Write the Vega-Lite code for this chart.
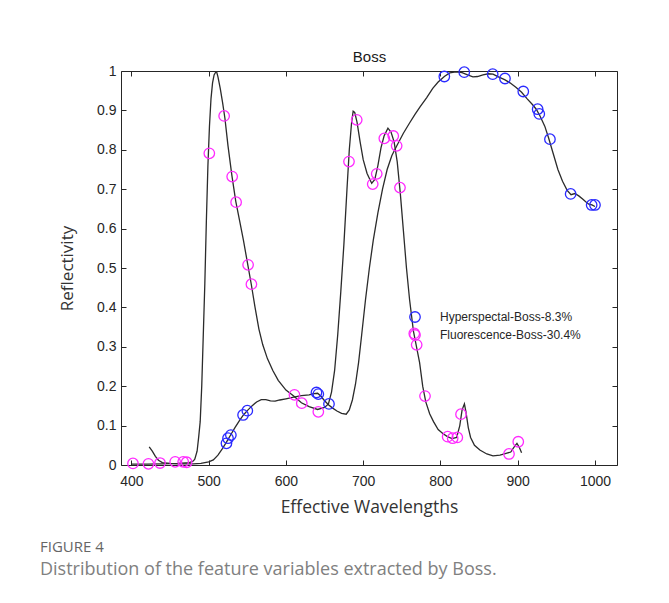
{
  "$schema": "https://vega.github.io/schema/vega-lite/v6.json",
  "width": 496,
  "height": 394,
  "autosize": {"type": "none"},
  "padding": {"left": 121, "top": 71, "right": 52, "bottom": 138},
  "background": "white",
  "config": {
    "view": {"stroke": "#262626", "strokeWidth": 1},
    "axis": {"grid": false, "domain": false, "tickColor": "#262626", "tickWidth": 1, "labelFont": "Liberation Sans", "labelFontSize": 14, "labelColor": "#262626", "titleFont": "Open Sans", "titleFontSize": 17.5, "titleFontWeight": "normal", "titleColor": "#333333"}
  },
  "title": {
    "text": "FIGURE 4",
    "subtitle": "Distribution of the feature variables extracted by Boss.",
    "orient": "bottom",
    "anchor": "start",
    "frame": "group",
    "dx": -81,
    "offset": 24,
    "font": "Open Sans",
    "fontSize": 15,
    "fontWeight": "normal",
    "color": "#666666",
    "subtitleFont": "Open Sans",
    "subtitleFontSize": 18,
    "subtitleColor": "#808080",
    "subtitlePadding": 6
  },
  "datasets": {
    "curves": [
      {"curve": "F", "wl": 400, "r": 0.002}, {"curve": "F", "wl": 420, "r": 0.002}, {"curve": "F", "wl": 440, "r": 0.003}, {"curve": "F", "wl": 460, "r": 0.004}, {"curve": "F", "wl": 475, "r": 0.006}, {"curve": "F", "wl": 480, "r": 0.01}, {"curve": "F", "wl": 482, "r": 0.015}, {"curve": "F", "wl": 485, "r": 0.035}, {"curve": "F", "wl": 487, "r": 0.07}, {"curve": "F", "wl": 489, "r": 0.11}, {"curve": "F", "wl": 491, "r": 0.2}, {"curve": "F", "wl": 493, "r": 0.33}, {"curve": "F", "wl": 495, "r": 0.46}, {"curve": "F", "wl": 497, "r": 0.62}, {"curve": "F", "wl": 499, "r": 0.76}, {"curve": "F", "wl": 501, "r": 0.86}, {"curve": "F", "wl": 503, "r": 0.93}, {"curve": "F", "wl": 505, "r": 0.97}, {"curve": "F", "wl": 507, "r": 0.99}, {"curve": "F", "wl": 510, "r": 1.0}, {"curve": "F", "wl": 512, "r": 0.985}, {"curve": "F", "wl": 515, "r": 0.955}, {"curve": "F", "wl": 518, "r": 0.92}, {"curve": "F", "wl": 521, "r": 0.88}, {"curve": "F", "wl": 525, "r": 0.81}, {"curve": "F", "wl": 530, "r": 0.735}, {"curve": "F", "wl": 535, "r": 0.67}, {"curve": "F", "wl": 540, "r": 0.62}, {"curve": "F", "wl": 545, "r": 0.57}, {"curve": "F", "wl": 550, "r": 0.515}, {"curve": "F", "wl": 555, "r": 0.46}, {"curve": "F", "wl": 560, "r": 0.4}, {"curve": "F", "wl": 565, "r": 0.345}, {"curve": "F", "wl": 570, "r": 0.305}, {"curve": "F", "wl": 576, "r": 0.27}, {"curve": "F", "wl": 583, "r": 0.24}, {"curve": "F", "wl": 590, "r": 0.215}, {"curve": "F", "wl": 600, "r": 0.19}, {"curve": "F", "wl": 610, "r": 0.175}, {"curve": "F", "wl": 620, "r": 0.158}, {"curve": "F", "wl": 630, "r": 0.148}, {"curve": "F", "wl": 641, "r": 0.141}, {"curve": "F", "wl": 650, "r": 0.146}, {"curve": "F", "wl": 655, "r": 0.155}, {"curve": "F", "wl": 659, "r": 0.185}, {"curve": "F", "wl": 663, "r": 0.24}, {"curve": "F", "wl": 667, "r": 0.33}, {"curve": "F", "wl": 671, "r": 0.44}, {"curve": "F", "wl": 675, "r": 0.56}, {"curve": "F", "wl": 679, "r": 0.7}, {"curve": "F", "wl": 682, "r": 0.8}, {"curve": "F", "wl": 685, "r": 0.87}, {"curve": "F", "wl": 687, "r": 0.898}, {"curve": "F", "wl": 689, "r": 0.895}, {"curve": "F", "wl": 692, "r": 0.87}, {"curve": "F", "wl": 696, "r": 0.82}, {"curve": "F", "wl": 700, "r": 0.775}, {"curve": "F", "wl": 705, "r": 0.74}, {"curve": "F", "wl": 711, "r": 0.715}, {"curve": "F", "wl": 715, "r": 0.725}, {"curve": "F", "wl": 719, "r": 0.76}, {"curve": "F", "wl": 723, "r": 0.805}, {"curve": "F", "wl": 727, "r": 0.835}, {"curve": "F", "wl": 732, "r": 0.855}, {"curve": "F", "wl": 736, "r": 0.845}, {"curve": "F", "wl": 740, "r": 0.82}, {"curve": "F", "wl": 744, "r": 0.77}, {"curve": "F", "wl": 748, "r": 0.69}, {"curve": "F", "wl": 752, "r": 0.595}, {"curve": "F", "wl": 756, "r": 0.5}, {"curve": "F", "wl": 760, "r": 0.42}, {"curve": "F", "wl": 765, "r": 0.34}, {"curve": "F", "wl": 769, "r": 0.3}, {"curve": "F", "wl": 773, "r": 0.26}, {"curve": "F", "wl": 777, "r": 0.2}, {"curve": "F", "wl": 781, "r": 0.16}, {"curve": "F", "wl": 786, "r": 0.13}, {"curve": "F", "wl": 791, "r": 0.11}, {"curve": "F", "wl": 797, "r": 0.09}, {"curve": "F", "wl": 803, "r": 0.08}, {"curve": "F", "wl": 809, "r": 0.072}, {"curve": "F", "wl": 815, "r": 0.067}, {"curve": "F", "wl": 821, "r": 0.07}, {"curve": "F", "wl": 825, "r": 0.1}, {"curve": "F", "wl": 828, "r": 0.14}, {"curve": "F", "wl": 831, "r": 0.155}, {"curve": "F", "wl": 833, "r": 0.135}, {"curve": "F", "wl": 836, "r": 0.095}, {"curve": "F", "wl": 839, "r": 0.07}, {"curve": "F", "wl": 844, "r": 0.05}, {"curve": "F", "wl": 851, "r": 0.038}, {"curve": "F", "wl": 860, "r": 0.028}, {"curve": "F", "wl": 868, "r": 0.023}, {"curve": "F", "wl": 877, "r": 0.025}, {"curve": "F", "wl": 886, "r": 0.03}, {"curve": "F", "wl": 891, "r": 0.033}, {"curve": "F", "wl": 895, "r": 0.045}, {"curve": "F", "wl": 899, "r": 0.055}, {"curve": "F", "wl": 902, "r": 0.045}, {"curve": "F", "wl": 905, "r": 0.031},
      {"curve": "H", "wl": 423, "r": 0.046}, {"curve": "H", "wl": 427, "r": 0.035}, {"curve": "H", "wl": 431, "r": 0.022}, {"curve": "H", "wl": 435, "r": 0.012}, {"curve": "H", "wl": 440, "r": 0.006}, {"curve": "H", "wl": 450, "r": 0.004}, {"curve": "H", "wl": 460, "r": 0.003}, {"curve": "H", "wl": 470, "r": 0.003}, {"curve": "H", "wl": 480, "r": 0.003}, {"curve": "H", "wl": 490, "r": 0.004}, {"curve": "H", "wl": 500, "r": 0.008}, {"curve": "H", "wl": 506, "r": 0.013}, {"curve": "H", "wl": 512, "r": 0.025}, {"curve": "H", "wl": 518, "r": 0.042}, {"curve": "H", "wl": 523, "r": 0.058}, {"curve": "H", "wl": 528, "r": 0.075}, {"curve": "H", "wl": 534, "r": 0.095}, {"curve": "H", "wl": 540, "r": 0.113}, {"curve": "H", "wl": 545, "r": 0.127}, {"curve": "H", "wl": 550, "r": 0.138}, {"curve": "H", "wl": 556, "r": 0.15}, {"curve": "H", "wl": 562, "r": 0.16}, {"curve": "H", "wl": 568, "r": 0.166}, {"curve": "H", "wl": 574, "r": 0.166}, {"curve": "H", "wl": 580, "r": 0.163}, {"curve": "H", "wl": 586, "r": 0.162}, {"curve": "H", "wl": 592, "r": 0.165}, {"curve": "H", "wl": 600, "r": 0.168}, {"curve": "H", "wl": 610, "r": 0.172}, {"curve": "H", "wl": 620, "r": 0.176}, {"curve": "H", "wl": 630, "r": 0.178}, {"curve": "H", "wl": 636, "r": 0.181}, {"curve": "H", "wl": 641, "r": 0.182}, {"curve": "H", "wl": 645, "r": 0.175}, {"curve": "H", "wl": 650, "r": 0.163}, {"curve": "H", "wl": 655, "r": 0.153}, {"curve": "H", "wl": 660, "r": 0.145}, {"curve": "H", "wl": 666, "r": 0.137}, {"curve": "H", "wl": 672, "r": 0.131}, {"curve": "H", "wl": 678, "r": 0.129}, {"curve": "H", "wl": 682, "r": 0.14}, {"curve": "H", "wl": 686, "r": 0.165}, {"curve": "H", "wl": 690, "r": 0.205}, {"curve": "H", "wl": 694, "r": 0.26}, {"curve": "H", "wl": 698, "r": 0.33}, {"curve": "H", "wl": 703, "r": 0.42}, {"curve": "H", "wl": 708, "r": 0.5}, {"curve": "H", "wl": 713, "r": 0.57}, {"curve": "H", "wl": 719, "r": 0.64}, {"curve": "H", "wl": 725, "r": 0.7}, {"curve": "H", "wl": 731, "r": 0.75}, {"curve": "H", "wl": 737, "r": 0.785}, {"curve": "H", "wl": 744, "r": 0.812}, {"curve": "H", "wl": 752, "r": 0.842}, {"curve": "H", "wl": 760, "r": 0.868}, {"curve": "H", "wl": 767, "r": 0.89}, {"curve": "H", "wl": 774, "r": 0.91}, {"curve": "H", "wl": 782, "r": 0.932}, {"curve": "H", "wl": 790, "r": 0.956}, {"curve": "H", "wl": 797, "r": 0.972}, {"curve": "H", "wl": 805, "r": 0.986}, {"curve": "H", "wl": 812, "r": 0.995}, {"curve": "H", "wl": 820, "r": 0.998}, {"curve": "H", "wl": 828, "r": 0.996}, {"curve": "H", "wl": 835, "r": 0.99}, {"curve": "H", "wl": 842, "r": 0.985}, {"curve": "H", "wl": 848, "r": 0.986}, {"curve": "H", "wl": 855, "r": 0.99}, {"curve": "H", "wl": 862, "r": 0.993}, {"curve": "H", "wl": 868, "r": 0.992}, {"curve": "H", "wl": 875, "r": 0.985}, {"curve": "H", "wl": 883, "r": 0.978}, {"curve": "H", "wl": 890, "r": 0.97}, {"curve": "H", "wl": 898, "r": 0.958}, {"curve": "H", "wl": 905, "r": 0.946}, {"curve": "H", "wl": 912, "r": 0.93}, {"curve": "H", "wl": 919, "r": 0.915}, {"curve": "H", "wl": 924, "r": 0.903}, {"curve": "H", "wl": 929, "r": 0.885}, {"curve": "H", "wl": 935, "r": 0.86}, {"curve": "H", "wl": 940, "r": 0.83}, {"curve": "H", "wl": 946, "r": 0.79}, {"curve": "H", "wl": 952, "r": 0.75}, {"curve": "H", "wl": 958, "r": 0.72}, {"curve": "H", "wl": 964, "r": 0.697}, {"curve": "H", "wl": 969, "r": 0.686}, {"curve": "H", "wl": 974, "r": 0.689}, {"curve": "H", "wl": 979, "r": 0.683}, {"curve": "H", "wl": 984, "r": 0.675}, {"curve": "H", "wl": 988, "r": 0.668}, {"curve": "H", "wl": 992, "r": 0.662}, {"curve": "H", "wl": 996, "r": 0.66}, {"curve": "H", "wl": 1000, "r": 0.656}
    ],
    "points": [
      {"series": "Hyperspectal-Boss-8.3%", "wl": 523, "r": 0.055}, {"series": "Hyperspectal-Boss-8.3%", "wl": 525, "r": 0.068}, {"series": "Hyperspectal-Boss-8.3%", "wl": 528.7, "r": 0.076}, {"series": "Hyperspectal-Boss-8.3%", "wl": 544.5, "r": 0.127}, {"series": "Hyperspectal-Boss-8.3%", "wl": 550, "r": 0.138}, {"series": "Hyperspectal-Boss-8.3%", "wl": 639.5, "r": 0.184}, {"series": "Hyperspectal-Boss-8.3%", "wl": 641.9, "r": 0.18}, {"series": "Hyperspectal-Boss-8.3%", "wl": 655.7, "r": 0.155}, {"series": "Hyperspectal-Boss-8.3%", "wl": 805, "r": 0.986}, {"series": "Hyperspectal-Boss-8.3%", "wl": 830.8, "r": 0.997}, {"series": "Hyperspectal-Boss-8.3%", "wl": 867.6, "r": 0.992}, {"series": "Hyperspectal-Boss-8.3%", "wl": 883.5, "r": 0.981}, {"series": "Hyperspectal-Boss-8.3%", "wl": 907.2, "r": 0.948}, {"series": "Hyperspectal-Boss-8.3%", "wl": 925.8, "r": 0.903}, {"series": "Hyperspectal-Boss-8.3%", "wl": 927.9, "r": 0.891}, {"series": "Hyperspectal-Boss-8.3%", "wl": 941.7, "r": 0.827}, {"series": "Hyperspectal-Boss-8.3%", "wl": 968.5, "r": 0.688}, {"series": "Hyperspectal-Boss-8.3%", "wl": 995.7, "r": 0.66}, {"series": "Hyperspectal-Boss-8.3%", "wl": 1000, "r": 0.66},
      {"series": "Fluorescence-Boss-30.4%", "wl": 402, "r": 0.004}, {"series": "Fluorescence-Boss-30.4%", "wl": 422, "r": 0.003}, {"series": "Fluorescence-Boss-30.4%", "wl": 437, "r": 0.005}, {"series": "Fluorescence-Boss-30.4%", "wl": 456.6, "r": 0.008}, {"series": "Fluorescence-Boss-30.4%", "wl": 467, "r": 0.008}, {"series": "Fluorescence-Boss-30.4%", "wl": 471.5, "r": 0.007}, {"series": "Fluorescence-Boss-30.4%", "wl": 500.8, "r": 0.791}, {"series": "Fluorescence-Boss-30.4%", "wl": 520, "r": 0.886}, {"series": "Fluorescence-Boss-30.4%", "wl": 530.4, "r": 0.732}, {"series": "Fluorescence-Boss-30.4%", "wl": 535.5, "r": 0.667}, {"series": "Fluorescence-Boss-30.4%", "wl": 551, "r": 0.508}, {"series": "Fluorescence-Boss-30.4%", "wl": 555.3, "r": 0.459}, {"series": "Fluorescence-Boss-30.4%", "wl": 611, "r": 0.178}, {"series": "Fluorescence-Boss-30.4%", "wl": 620.5, "r": 0.157}, {"series": "Fluorescence-Boss-30.4%", "wl": 641.9, "r": 0.135}, {"series": "Fluorescence-Boss-30.4%", "wl": 681.6, "r": 0.77}, {"series": "Fluorescence-Boss-30.4%", "wl": 691.6, "r": 0.876}, {"series": "Fluorescence-Boss-30.4%", "wl": 712.3, "r": 0.713}, {"series": "Fluorescence-Boss-30.4%", "wl": 717.5, "r": 0.739}, {"series": "Fluorescence-Boss-30.4%", "wl": 727.3, "r": 0.829}, {"series": "Fluorescence-Boss-30.4%", "wl": 738.9, "r": 0.835}, {"series": "Fluorescence-Boss-30.4%", "wl": 743.3, "r": 0.81}, {"series": "Fluorescence-Boss-30.4%", "wl": 747.6, "r": 0.704}, {"series": "Fluorescence-Boss-30.4%", "wl": 766.1, "r": 0.334}, {"series": "Fluorescence-Boss-30.4%", "wl": 769.2, "r": 0.305}, {"series": "Fluorescence-Boss-30.4%", "wl": 780, "r": 0.175}, {"series": "Fluorescence-Boss-30.4%", "wl": 809.3, "r": 0.072}, {"series": "Fluorescence-Boss-30.4%", "wl": 815.8, "r": 0.068}, {"series": "Fluorescence-Boss-30.4%", "wl": 821.8, "r": 0.07}, {"series": "Fluorescence-Boss-30.4%", "wl": 826.6, "r": 0.129}, {"series": "Fluorescence-Boss-30.4%", "wl": 888.7, "r": 0.028}, {"series": "Fluorescence-Boss-30.4%", "wl": 900.7, "r": 0.059}
    ]
  },
  "layer": [
    {
      "data": {"name": "curves"},
      "mark": {"type": "line", "color": "#2b2b2b", "strokeWidth": 1.3, "clip": true},
      "encoding": {
        "x": {"field": "wl", "type": "quantitative", "scale": {"domain": [386.5, 1028.5], "nice": false, "zero": false},
          "axis": {"orient": "bottom", "values": [400, 500, 600, 700, 800, 900, 1000], "format": "d", "tickSize": -5, "labelPadding": 14, "title": "Effective Wavelengths", "titlePadding": 10}},
        "y": {"field": "r", "type": "quantitative", "scale": {"domain": [0, 1], "nice": false, "zero": false},
          "axis": {"orient": "left", "values": [0, 0.1, 0.2, 0.3, 0.4, 0.5, 0.6, 0.7, 0.8, 0.9, 1], "format": "~g", "tickSize": -5, "labelPadding": 10, "title": "Reflectivity", "titleFontSize": 17, "titlePadding": 20}},
        "detail": {"field": "curve", "type": "nominal"}
      }
    },
    {
      "data": {"name": "points"},
      "mark": {"type": "point", "shape": "circle", "filled": false, "size": 110, "strokeWidth": 1.3, "opacity": 1},
      "encoding": {
        "x": {"field": "wl", "type": "quantitative",
          "axis": {"orient": "top", "values": [400, 500, 600, 700, 800, 900, 1000], "tickSize": -5, "labels": false, "title": "Boss", "titleFont": "Liberation Sans", "titleFontSize": 15, "titleColor": "#1a1a1a", "titlePadding": 6}},
        "y": {"field": "r", "type": "quantitative",
          "axis": {"orient": "right", "values": [0, 0.1, 0.2, 0.3, 0.4, 0.5, 0.6, 0.7, 0.8, 0.9, 1], "tickSize": -5, "labels": false, "title": null}},
        "color": {"field": "series", "type": "nominal",
          "scale": {"domain": ["Hyperspectal-Boss-8.3%", "Fluorescence-Boss-30.4%"], "range": ["#2a2aff", "#ff2aff"]},
          "legend": {"title": null, "orient": "none", "legendX": 288, "legendY": 240, "padding": 0, "labelFont": "Liberation Sans", "labelFontSize": 12, "labelColor": "#262626", "labelOffset": 19, "rowPadding": 2, "symbolSize": 110, "symbolStrokeWidth": 1.3}}
      }
    }
  ],
  "resolve": {"axis": {"x": "independent", "y": "independent"}}
}
